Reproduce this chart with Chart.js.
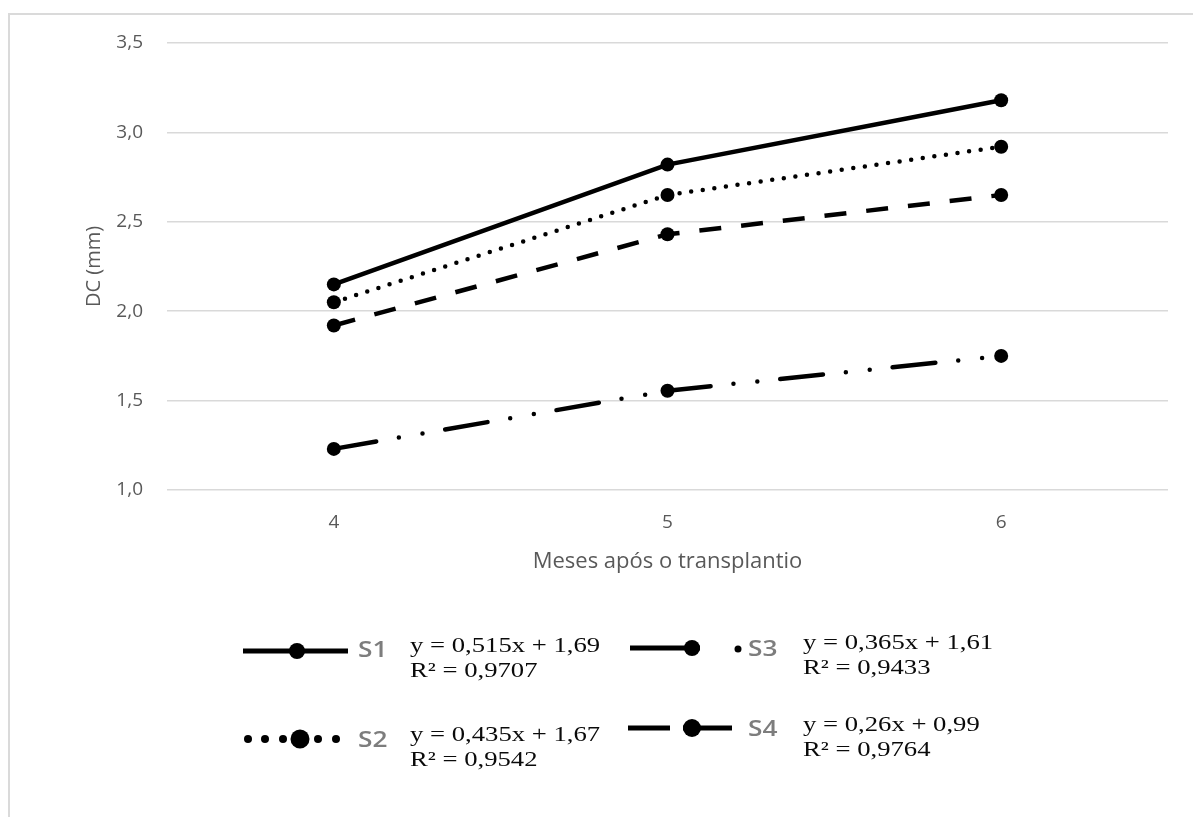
<!DOCTYPE html>
<html>
<head>
<meta charset="utf-8">
<script src="https://cdn.jsdelivr.net/npm/chart.js@4.4.1/dist/chart.umd.min.js"></script>
<style>
  html, body { margin: 0; padding: 0; background: #fff; }
  #wrap { position: relative; width: 1193px; height: 817px; overflow: hidden; background: #fff; }
  #c { position: absolute; left: 0; top: 0; }
  #frame { position: absolute; left: 8px; top: 13px; width: 1300px; height: 900px;
           border-left: 2px solid #dadada; border-top: 2px solid #dadada; }
  .lbl { position: absolute; font-family: "Open Sans", sans-serif; font-size: 21px; font-weight: 600; color: #7d7d7d;
         line-height: 24px; transform: scaleX(1.25); transform-origin: left center; white-space: nowrap; }
  .eq { position: absolute; font-family: "Liberation Serif", "Times New Roman", serif; font-size: 21px; color: #0a0a0a;
        line-height: 25px; transform: scaleX(1.27); transform-origin: left top; white-space: nowrap; }
  #legsvg { position: absolute; left: 0; top: 0; }
</style>
</head>
<body>
<div id="wrap">
  <div id="frame"></div>
  <canvas id="c" width="1193" height="817"></canvas>
  <svg id="legsvg" width="1193" height="817">
    <line x1="243" y1="651" x2="348" y2="651" stroke="#000" stroke-width="5"/>
    <circle cx="297" cy="651" r="8" fill="#000"/>
    <circle cx="248" cy="739" r="4" fill="#000"/>
    <circle cx="265" cy="739" r="4" fill="#000"/>
    <circle cx="283" cy="739" r="4" fill="#000"/>
    <circle cx="300" cy="739" r="9.5" fill="#000"/>
    <circle cx="318" cy="739" r="4" fill="#000"/>
    <circle cx="336" cy="739" r="4" fill="#000"/>
    <line x1="630" y1="648" x2="700" y2="648" stroke="#000" stroke-width="5"/>
    <circle cx="692" cy="648" r="8" fill="#000"/>
    <circle cx="738" cy="649" r="3.5" fill="#000"/>
    <line x1="628" y1="728" x2="670" y2="728" stroke="#000" stroke-width="5"/>
    <circle cx="692" cy="728" r="9" fill="#000"/>
    <line x1="683" y1="728" x2="732" y2="728" stroke="#000" stroke-width="5"/>
  </svg>
  <div class="lbl" style="left:358px; top:637px;">S1</div>
  <div class="lbl" style="left:358px; top:727px;">S2</div>
  <div class="lbl" style="left:748px; top:636px;">S3</div>
  <div class="lbl" style="left:748px; top:716px;">S4</div>
  <div class="eq" style="left:410px; top:633px;">y = 0,515x + 1,69<br>R² = 0,9707</div>
  <div class="eq" style="left:410px; top:722px;">y = 0,435x + 1,67<br>R² = 0,9542</div>
  <div class="eq" style="left:803px; top:630px;">y = 0,365x + 1,61<br>R² = 0,9433</div>
  <div class="eq" style="left:803px; top:712px;">y = 0,26x + 0,99<br>R² = 0,9764</div>
</div>
<script>
// ---- data ----
const categories = ['4', '5', '6'];
const s1 = [2.15, 2.82, 3.18];
const s2 = [2.05, 2.65, 2.92];
const s3 = [1.92, 2.43, 2.65];
const s4 = [1.23, 1.555, 1.75];
const seriesNames = ['S1', 'S2', 'S3', 'S4'];
const yMin = 1.0, yMax = 3.5, yStep = 0.5;

const FONT = "'Open Sans', sans-serif";
const common = {
  borderColor: '#000',
  backgroundColor: '#000',
  pointBackgroundColor: '#000',
  pointBorderWidth: 0,
  pointRadius: 7,
  borderWidth: 4.5,
  tension: 0,
  fill: false
};

new Chart(document.getElementById('c'), {
  type: 'line',
  data: {
    labels: categories,
    datasets: [
      Object.assign({}, common, { label: seriesNames[3], data: s4, borderDash: [43, 23, 0, 24, 0, 23], borderCapStyle: 'round' }),
      Object.assign({}, common, { label: seriesNames[2], data: s3, borderDash: [22, 20], borderCapStyle: 'butt' }),
      Object.assign({}, common, { label: seriesNames[1], data: s2, borderDash: [0, 11.7], borderCapStyle: 'round' }),
      Object.assign({}, common, { label: seriesNames[0], data: s1, borderCapStyle: 'butt' })
    ]
  },
  options: {
    responsive: false,
    devicePixelRatio: 1,
    animation: false,
    layout: { padding: { left: 82, top: 43, right: 25, bottom: 242 } },
    plugins: { legend: { display: false }, tooltip: { enabled: false } },
    scales: {
      x: {
        offset: true,
        grid: { display: false, drawTicks: false },
        border: { display: false },
        ticks: { color: '#595959', font: { family: FONT, size: 19 }, padding: 21 },
        title: { display: true, text: 'Meses após o transplantio', color: '#595959',
                 font: { family: FONT, size: 22 }, padding: 0 },
        afterFit: (s) => { s.height = 85; }
      },
      y: {
        min: yMin, max: yMax,
        grid: { color: '#d9d9d9', lineWidth: 1.5, drawTicks: false },
        border: { display: false },
        ticks: { stepSize: yStep, color: '#595959', font: { family: FONT, size: 19 }, padding: 24,
                 callback: (v) => Number(v).toFixed(1).replace('.', ',') },
        title: { display: true, text: 'DC (mm)', color: '#595959',
                 font: { family: FONT, size: 20 }, padding: 0 },
        afterFit: (s) => { s.width = 85; }
      }
    }
  }
});
</script>
</body>
</html>
